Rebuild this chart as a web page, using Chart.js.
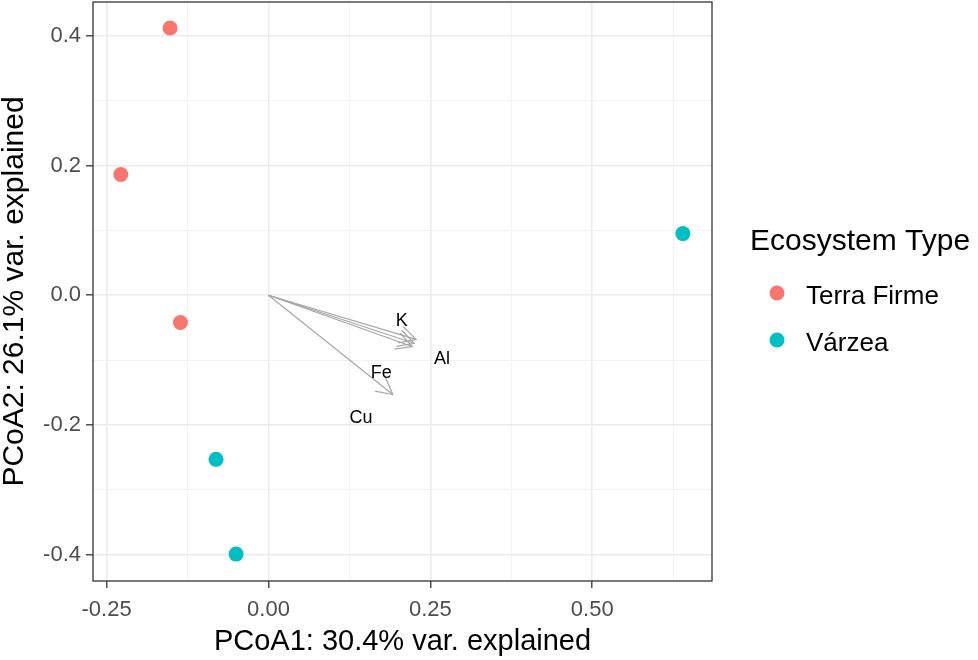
<!DOCTYPE html>
<html>
<head>
<meta charset="utf-8">
<script src="https://cdn.jsdelivr.net/npm/chart.js@4.4.1/dist/chart.umd.min.js"></script>
<style>
  html, body { margin: 0; padding: 0; background: #fff; }
  #wrap { width: 978px; height: 660px; }
</style>
</head>
<body>
<div id="wrap"><canvas id="pcoa" width="978" height="660"></canvas></div>
<script>
// groups
const groups = ['Terra Firme', 'Várzea'];
const groupColors = ['#F8766D', '#00BFC4'];

// sample scores
const terraFirmeX = [-0.152, -0.228, -0.136];
const terraFirmeY = [0.412, 0.186, -0.042];
const varzeaX = [0.640, -0.081, -0.050];
const varzeaY = [0.095, -0.253, -0.399];

// fitted element vectors
const vectorNames = ['K', 'Al', 'Fe', 'Cu'];
const vectorX = [0.228, 0.225, 0.222, 0.192];
const vectorY = [-0.068, -0.074, -0.079, -0.153];
const vectorLabelX = [0.206, 0.268, 0.174, 0.143];
const vectorLabelY = [-0.040, -0.099, -0.120, -0.189];

// axes
const xTicks = [-0.25, 0, 0.25, 0.5];
const xTickLabels = ['-0.25', '0.00', '0.25', '0.50'];
const xMinorTicks = [-0.125, 0.125, 0.375, 0.625];
const yTicks = [-0.4, -0.2, 0, 0.2, 0.4];
const yTickLabels = ['-0.4', '-0.2', '0.0', '0.2', '0.4'];
const yMinorTicks = [-0.3, -0.1, 0.1, 0.3];

const FONT = "'Liberation Sans', Arial, sans-serif";

function toPoints(xs, ys) {
    return xs.map((x, i) => ({ x: x, y: ys[i] }));
}

function majorIndex(list, v) {
    return list.findIndex(t => Math.abs(t - v) < 1e-6);
}

const datasets = [
    {
        label: groups[0],
        data: toPoints(terraFirmeX, terraFirmeY),
        backgroundColor: groupColors[0],
        borderWidth: 0,
        pointRadius: 7.5,
        pointHoverRadius: 7.5
    },
    {
        label: groups[1],
        data: toPoints(varzeaX, varzeaY),
        backgroundColor: groupColors[1],
        borderWidth: 0,
        pointRadius: 7.5,
        pointHoverRadius: 7.5
    }
];

vectorNames.forEach((name, i) => {
    datasets.push({
        label: name,
        data: [{ x: 0, y: 0 }, { x: vectorX[i], y: vectorY[i] }],
        showLine: true,
        borderColor: '#A6A6A6',
        borderWidth: 1.2,
        pointRadius: 0,
        pointHoverRadius: 0
    });
});

// arrow heads + labels for the vectors
const vectorPlugin = {
    id: 'vectorPlugin',
    afterDatasetsDraw(chart) {
        const ctx = chart.ctx;
        const xs = chart.scales.x;
        const ys = chart.scales.y;
        const ox = xs.getPixelForValue(0);
        const oy = ys.getPixelForValue(0);
        ctx.save();
        ctx.strokeStyle = '#A6A6A6';
        ctx.lineWidth = 1.2;
        vectorNames.forEach((name, i) => {
            const tx = xs.getPixelForValue(vectorX[i]);
            const ty = ys.getPixelForValue(vectorY[i]);
            const ang = Math.atan2(oy - ty, ox - tx);
            const len = 18;
            const spread = 28 * Math.PI / 180;
            ctx.beginPath();
            ctx.moveTo(tx + len * Math.cos(ang - spread), ty + len * Math.sin(ang - spread));
            ctx.lineTo(tx, ty);
            ctx.lineTo(tx + len * Math.cos(ang + spread), ty + len * Math.sin(ang + spread));
            ctx.stroke();
        });
        ctx.fillStyle = '#000';
        ctx.font = '18px ' + FONT;
        ctx.textAlign = 'center';
        ctx.textBaseline = 'middle';
        vectorNames.forEach((name, i) => {
            ctx.fillText(name, xs.getPixelForValue(vectorLabelX[i]), ys.getPixelForValue(vectorLabelY[i]));
        });
        ctx.restore();
    },
    afterDraw(chart) {
        // panel border
        const a = chart.chartArea;
        const ctx = chart.ctx;
        ctx.save();
        ctx.strokeStyle = '#333333';
        ctx.lineWidth = 1.3;
        ctx.strokeRect(a.left, a.top, a.right - a.left, a.bottom - a.top);
        ctx.restore();
    }
};

// ggplot-style legend on the right
const legendPlugin = {
    id: 'sideLegend',
    afterDraw(chart) {
        const ctx = chart.ctx;
        ctx.save();
        ctx.fillStyle = '#000';
        ctx.textAlign = 'left';
        ctx.textBaseline = 'middle';
        ctx.font = '30px ' + FONT;
        ctx.fillText('Ecosystem Type', 750, 242);
        ctx.font = '26px ' + FONT;
        groups.forEach((g, i) => {
            const y = 293 + i * 47;
            ctx.beginPath();
            ctx.fillStyle = groupColors[i];
            ctx.arc(777, y, 7.5, 0, Math.PI * 2);
            ctx.fill();
            ctx.fillStyle = '#000';
            ctx.fillText(g, 806, y + 4);
        });
        ctx.restore();
    }
};

function gridColor(majors) {
    return ctx => majorIndex(majors, ctx.tick.value) >= 0 ? '#EBEBEB' : '#F2F2F2';
}
function gridWidth(majors) {
    return ctx => majorIndex(majors, ctx.tick.value) >= 0 ? 1.6 : 1.0;
}
function tickColor(majors) {
    return ctx => majorIndex(majors, ctx.tick.value) >= 0 ? '#333333' : 'rgba(0,0,0,0)';
}

new Chart(document.getElementById('pcoa'), {
    type: 'scatter',
    data: { datasets: datasets },
    plugins: [vectorPlugin, legendPlugin],
    options: {
        responsive: false,
        animation: false,
        devicePixelRatio: 1,
        layout: { autoPadding: false, padding: { left: 0, right: 266, top: 2, bottom: 0 } },
        plugins: {
            legend: { display: false },
            tooltip: { enabled: false }
        },
        scales: {
            x: {
                type: 'linear',
                position: 'bottom',
                min: -0.271,
                max: 0.685,
                afterBuildTicks: scale => {
                    scale.ticks = xTicks.concat(xMinorTicks).sort((a, b) => a - b).map(v => ({ value: v }));
                },
                afterFit: scale => {
                    scale.height = 79;
                    scale.paddingLeft = 0;
                    scale.paddingRight = 0;
                },
                border: { display: false },
                grid: {
                    color: gridColor(xTicks),
                    lineWidth: gridWidth(xTicks),
                    tickColor: tickColor(xTicks),
                    tickLength: 7,
                    tickWidth: 1.3
                },
                ticks: {
                    autoSkip: false,
                    maxRotation: 0,
                    padding: 9,
                    color: '#4D4D4D',
                    font: { family: FONT, size: 22 },
                    callback: v => {
                        const i = majorIndex(xTicks, v);
                        return i >= 0 ? xTickLabels[i] : '';
                    }
                },
                title: {
                    display: true,
                    text: 'PCoA1: 30.4% var. explained',
                    color: '#000',
                    font: { family: FONT, size: 29, lineHeight: 1 },
                    padding: { top: 0, bottom: 4 }
                }
            },
            y: {
                type: 'linear',
                min: -0.4405,
                max: 0.452,
                afterBuildTicks: scale => {
                    scale.ticks = yTicks.concat(yMinorTicks).sort((a, b) => a - b).map(v => ({ value: v }));
                },
                afterFit: scale => {
                    scale.width = 93;
                    scale.paddingTop = 0;
                    scale.paddingBottom = 0;
                },
                border: { display: false },
                grid: {
                    color: gridColor(yTicks),
                    lineWidth: gridWidth(yTicks),
                    tickColor: tickColor(yTicks),
                    tickLength: 7,
                    tickWidth: 1.3
                },
                ticks: {
                    autoSkip: false,
                    padding: 5,
                    color: '#4D4D4D',
                    font: { family: FONT, size: 22 },
                    callback: v => {
                        const i = majorIndex(yTicks, v);
                        return i >= 0 ? yTickLabels[i] : '';
                    }
                },
                title: {
                    display: true,
                    text: 'PCoA2: 26.1% var. explained',
                    color: '#000',
                    font: { family: FONT, size: 30, lineHeight: 1 },
                    padding: { top: 0, bottom: 0 }
                }
            }
        }
    }
});
</script>
</body>
</html>
